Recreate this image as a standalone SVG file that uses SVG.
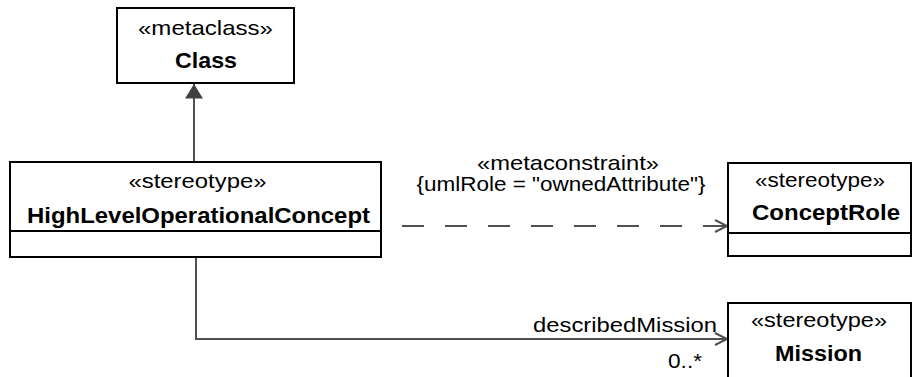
<svg xmlns="http://www.w3.org/2000/svg" width="913" height="377" viewBox="0 0 913 377">
<style>
.box{fill:#fff;stroke:#000;stroke-width:2}
.div{stroke:#000;stroke-width:2}
.st{font-family:"Liberation Sans",Arial,sans-serif;font-size:21px;fill:#000;text-anchor:middle}
.nm{font-family:"Liberation Sans",Arial,sans-serif;font-size:22px;font-weight:bold;fill:#000;text-anchor:middle}
.lb{font-family:"Liberation Sans",Arial,sans-serif;font-size:21px;fill:#000}
.ln{fill:none;stroke:#505050;stroke-width:2}
</style>
<defs>
<marker id="tri" markerWidth="22" markerHeight="18" refX="16" refY="10" orient="auto" markerUnits="userSpaceOnUse" viewBox="0 0 22 20">
<path d="M0,0 L16,10 L0,20 Z" fill="#404040"/>
</marker>
<marker id="open" markerWidth="16" markerHeight="16" refX="13" refY="7" orient="auto" markerUnits="userSpaceOnUse" viewBox="0 0 16 14">
<path d="M1,1 L13,7 L1,13" fill="none" stroke="#505050" stroke-width="2"/>
</marker>
</defs>
<g id="connectors">
<line class="ln" x1="194" y1="162" x2="194" y2="84" marker-end="url(#tri)"/>
<line class="ln" x1="402" y1="226" x2="727" y2="226" stroke-dasharray="22,21" marker-end="url(#open)"/>
<polyline class="ln" points="196,257 196,339 727,339" marker-end="url(#open)"/>
<text class="st" x="568" y="170" textLength="182" lengthAdjust="spacingAndGlyphs">«metaconstraint»</text>
<text class="st" x="561" y="191" textLength="289" lengthAdjust="spacingAndGlyphs">{umlRole = "ownedAttribute"}</text>
<text class="lb" x="533" y="332" textLength="184" lengthAdjust="spacingAndGlyphs">describedMission</text>
<text class="lb" x="668" y="368" textLength="34" lengthAdjust="spacingAndGlyphs">0..*</text>
</g>
<g id="class">
<rect class="box" x="117" y="8" width="177" height="75"/>
<text class="st" x="205.5" y="35" textLength="135" lengthAdjust="spacingAndGlyphs">«metaclass»</text>
<text class="nm" x="206" y="68" textLength="62" lengthAdjust="spacingAndGlyphs">Class</text>
</g>
<g id="hloc">
<rect class="box" x="10" y="162" width="371" height="95"/>
<line class="div" x1="10" y1="231" x2="381" y2="231"/>
<text class="st" x="197.5" y="188" textLength="138" lengthAdjust="spacingAndGlyphs">«stereotype»</text>
<text class="nm" x="198.5" y="223" textLength="343" lengthAdjust="spacingAndGlyphs">HighLevelOperationalConcept</text>
</g>
<g id="conceptrole">
<rect class="box" x="728" y="163" width="183" height="93"/>
<line class="div" x1="728" y1="233" x2="911" y2="233"/>
<text class="st" x="820" y="187" textLength="130" lengthAdjust="spacingAndGlyphs">«stereotype»</text>
<text class="nm" x="826" y="220" textLength="148" lengthAdjust="spacingAndGlyphs">ConceptRole</text>
</g>
<g id="mission">
<rect class="box" x="728" y="303" width="183" height="85"/>
<text class="st" x="819" y="327" textLength="136" lengthAdjust="spacingAndGlyphs">«stereotype»</text>
<text class="nm" x="818.5" y="361" textLength="87" lengthAdjust="spacingAndGlyphs">Mission</text>
</g>
</svg>
